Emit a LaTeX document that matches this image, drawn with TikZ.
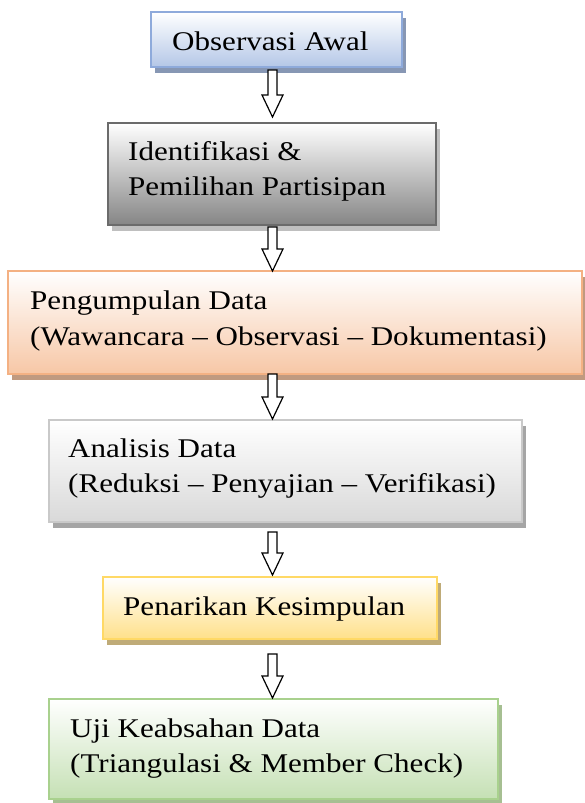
\documentclass[tikz,border=0pt]{standalone}
\usepackage{fontspec}
\setmainfont{Liberation Serif}[FakeStretch=1.15]
\usetikzlibrary{shadows,calc}
\definecolor{bluebd}{HTML}{8EAADB}
\definecolor{bluebt}{HTML}{B4C7E7}
\definecolor{bluesh}{HTML}{8797B4}
\definecolor{graybd}{HTML}{6B6B6B}
\definecolor{graybt}{HTML}{858585}
\definecolor{graysh}{HTML}{BFBFBF}
\definecolor{orgbd}{HTML}{F4B183}
\definecolor{orgbt}{HTML}{F7C7A6}
\definecolor{orgsh}{HTML}{C09A80}
\definecolor{ltgbd}{HTML}{C9C9C9}
\definecolor{ltgbt}{HTML}{D9D9D9}
\definecolor{ltgsh}{HTML}{A5A5A5}
\definecolor{ylwbd}{HTML}{FFD966}
\definecolor{ylwbt}{HTML}{FFE08A}
\definecolor{ylwsh}{HTML}{BFAB78}
\definecolor{grnbd}{HTML}{A9D18E}
\definecolor{grnbt}{HTML}{C5E0B4}
\definecolor{grnsh}{HTML}{A6BF92}
\tikzset{
  stagebox/.style n args={3}{rectangle, line width=2pt, inner sep=0pt,
    draw=#1, top color=white, bottom color=#2,
    drop shadow={fill=#3, opacity=1, shadow xshift=4pt, shadow yshift=-6pt}},
  stagetext/.style={anchor=base west, inner sep=0pt, font=\fontsize{27}{32}\selectfont},
  blockarrow/.style={draw=black, fill=white, line width=1.2pt, line join=miter}
}
\newcommand\blockarr[2]{%
  \draw[blockarrow] let \p1=(#1), \p2=(#2) in
    (\x1-4.5pt,\y1) -- (\x1-4.5pt,\y2+22pt) -- (\x1-10.5pt,\y2+22pt) --
    (\x1,\y2) -- (\x1+10.5pt,\y2+22pt) -- (\x1+4.5pt,\y2+22pt) --
    (\x1+4.5pt,\y1) -- cycle;}
\begin{document}
\begin{tikzpicture}[x=1pt,y=-1pt]
\useasboundingbox (0,0) rectangle (584,803);
\fill[white] (0,0) rectangle (584,803);
% boxes
\node[stagebox={bluebd}{bluebt}{bluesh}, minimum width=251pt, minimum height=55pt] (b1) at (276.5,39.5) {};
\node[stagebox={graybd}{graybt}{graysh}, minimum width=328pt, minimum height=102pt] (b2) at (272,174) {};
\node[stagebox={orgbd}{orgbt}{orgsh}, minimum width=574pt, minimum height=103pt] (b3) at (295,322.5) {};
\node[stagebox={ltgbd}{ltgbt}{ltgsh}, minimum width=473pt, minimum height=102pt] (b4) at (285.5,471) {};
\node[stagebox={ylwbd}{ylwbt}{ylwsh}, minimum width=334pt, minimum height=62pt] (b5) at (270,608) {};
\node[stagebox={grnbd}{grnbt}{grnsh}, minimum width=449pt, minimum height=100pt] (b6) at (273.5,749) {};
% texts
\node[stagetext] (t1) at (172,50) {Observasi Awal};
\node[stagetext] (t2a) at (128,160) {Identifikasi \&};
\node[stagetext] (t2b) at (128,195) {Pemilihan Partisipan};
\node[stagetext] (t3a) at (30,309) {Pengumpulan Data};
\node[stagetext] (t3b) at (30,345) {(Wawancara – Observasi – Dokumentasi)};
\node[stagetext] (t4a) at (68,457) {Analisis Data};
\node[stagetext] (t4b) at (68,492) {(Reduksi – Penyajian – Verifikasi)};
\node[stagetext] (t5) at (123,615) {Penarikan Kesimpulan};
\node[stagetext] (t6a) at (70,737) {Uji Keabsahan Data};
\node[stagetext] (t6b) at (70,772) {(Triangulasi \& Member Check)};
% arrows
\coordinate (ax) at (272.5,0);
\blockarr{$(ax|-b1.south)+(0,2)$}{$(ax|-b2.north)+(0,-5)$}
\blockarr{$(ax|-b2.south)+(0,1)$}{$(ax|-b3.north)+(0,1)$}
\blockarr{$(ax|-b3.south)+(0,-1)$}{$(ax|-b4.north)+(0,0)$}
\blockarr{$(ax|-b4.south)+(0,9)$}{$(ax|-b5.north)+(0,-1)$}
\blockarr{$(ax|-b5.south)+(0,14)$}{$(ax|-b6.north)+(0,0)$}
\end{tikzpicture}
\end{document}
